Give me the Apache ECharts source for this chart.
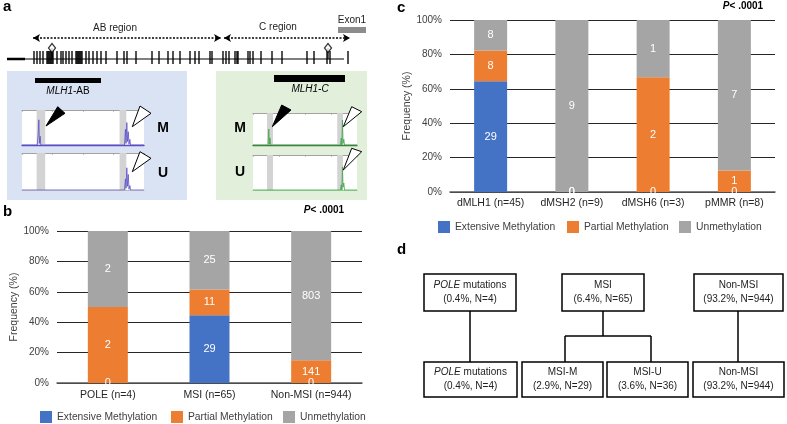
<!DOCTYPE html>
<html><head><meta charset="utf-8">
<script src="https://cdn.jsdelivr.net/npm/echarts@6/dist/echarts.min.js"></script>
<style>html,body{margin:0;padding:0;background:#fff}#c{width:787px;height:424px}</style>
</head><body><div id="c"></div>
<script>
// ---------- DATA ----------
const seriesNames = ['Extensive Methylation', 'Partial Methylation', 'Unmethylation'];
// panel b
const bCategories = ['POLE (n=4)', 'MSI (n=65)', 'Non-MSI (n=944)'];
const bExtensive = [0, 29, 0];
const bPartial = [2, 11, 141];
const bUnmeth = [2, 25, 803];
// panel c
const cCategories = ['dMLH1 (n=45)', 'dMSH2 (n=9)', 'dMSH6 (n=3)', 'pMMR (n=8)'];
const cExtensive = [29, 0, 0, 0];
const cPartial = [8, 0, 2, 1];
const cUnmeth = [8, 9, 1, 7];
const yTicks = [0, 20, 40, 60, 80, 100];
const pValueText = '< .0001';
// panel a (schematic coordinates along the promoter region)
const cpgSites = [34, 37, 40, 43, 47, 48, 49, 50, 51, 52, 53, 57, 61, 63, 66, 69, 72, 76, 77, 78, 79, 80, 81, 82,
  86, 89, 93, 97, 101, 106, 117, 124, 127, 136, 152, 159, 168, 173, 180,
  190, 195, 199, 210, 212, 223, 226, 229, 235, 237, 238, 248, 250, 253, 261, 272, 282, 307, 314, 327, 330, 348];
const lollipopSites = [52, 328];
const abRegion = [33, 221];
const cRegion = [224, 350];
const exon1 = [338, 366];
const ampliconAB = [35, 101];
const ampliconC = [274, 345];
// electropherogram traces (size position %, relative signal)
const traceABM = [[0,0],[12.5,0],[13.3,0.35],[13.8,0.72],[14.3,0.05],[14.9,0.25],[15.4,0],[84,0],[84.8,0.45],[85.3,0.05],[85.9,0.64],[86.5,0.1],[87.1,0.38],[87.7,0.02],[88.4,0.16],[89,0],[100,0]];
const traceABU = [[0,0],[84,0],[84.8,0.3],[85.3,0.05],[85.9,0.6],[86.5,0.1],[87.1,0.42],[87.7,0.02],[88.4,0.12],[89,0],[100,0]];
const traceCM = [[0,0],[14.5,0],[15.2,0.5],[15.7,0.02],[16.3,0.22],[17,0],[84,0],[84.9,0.22],[85.4,0],[86,0.78],[86.6,0.05],[87.3,0.18],[88,0],[100,0]];
const traceCU = [[0,0],[84,0],[84.9,0.15],[85.4,0],[86,0.66],[86.6,0.08],[87.3,0.2],[88,0],[100,0]];
const abShaded = [[12, 19], [80, 85.5]];
const cShaded = [[13.5, 19.2], [81, 86.5]];
// panel d
const flowTop = [
  {name: 'POLE', italic: true, rest: ' mutations', pct: '0.4%', n: 4},
  {name: 'MSI', italic: false, rest: '', pct: '6.4%', n: 65},
  {name: 'Non-MSI', italic: false, rest: '', pct: '93.2%', n: 944}
];
const flowBottom = [
  {name: 'POLE', italic: true, rest: ' mutations', pct: '0.4%', n: 4},
  {name: 'MSI-M', italic: false, rest: '', pct: '2.9%', n: 29},
  {name: 'MSI-U', italic: false, rest: '', pct: '3.6%', n: 36},
  {name: 'Non-MSI', italic: false, rest: '', pct: '93.2%', n: 944}
];

// ---------- CHART ----------
const FONT = '"Liberation Sans", Arial, Helvetica, sans-serif';
const COLORS = ['#4472c4', '#ed7d31', '#a5a5a5'];
const chart = echarts.init(document.getElementById('c'));

function stackSeries(cats, ext, par, un, xi, barWidth) {
  const totals = cats.map((_, i) => ext[i] + par[i] + un[i]);
  return [ext, par, un].map((arr, k) => ({
    type: 'bar', name: seriesNames[k], stack: 'stk' + xi, xAxisIndex: xi, yAxisIndex: xi,
    barWidth: barWidth, itemStyle: {color: COLORS[k]},
    label: {show: true, position: 'inside', color: '#fff', fontSize: 11, fontFamily: FONT,
      formatter: p => String(p.data.count)},
    data: arr.map((v, i) => ({value: v / totals[i] * 100, count: v}))
  }));
}

function pctAxis(gi, nameGap) {
  return {type: 'value', gridIndex: gi, min: yTicks[0], max: yTicks[yTicks.length - 1],
    interval: yTicks[1] - yTicks[0],
    axisLine: {show: false}, axisTick: {show: false},
    axisLabel: {formatter: '{value}%', color: '#404040', fontSize: 10, margin: 8, fontFamily: FONT},
    splitLine: {lineStyle: {color: '#262626', width: 1}},
    name: 'Frequency (%)', nameLocation: 'middle', nameRotate: 90, nameGap: nameGap,
    nameTextStyle: {fontSize: 10.5, color: '#404040', fontFamily: FONT}};
}
function catAxis(gi, cats, margin) {
  return {type: 'category', gridIndex: gi, data: cats,
    axisLine: {lineStyle: {color: '#595959', width: 1.5}}, axisTick: {show: false},
    axisLabel: {interval: 0, color: '#262626', fontSize: 10.5, margin: margin, fontFamily: FONT}};
}

const electro = [
  {grid: {left: 22, top: 110, width: 122, height: 35}, trace: traceABM, shaded: abShaded, color: '#5a4fc8', base: '#5a4fc8', baseW: 1.4},
  {grid: {left: 22, top: 153, width: 122, height: 37}, trace: traceABU, shaded: abShaded, color: '#5a4fc8', base: '#b0b0b0', baseW: 0.8},
  {grid: {left: 253, top: 113, width: 104, height: 32}, trace: traceCM, shaded: cShaded, color: '#3fa44a', base: '#3c7a42', baseW: 1.4},
  {grid: {left: 253, top: 155, width: 104, height: 35}, trace: traceCU, shaded: cShaded, color: '#3fa44a', base: '#8fcf8f', baseW: 1}
];

const grids = [
  {left: 57, top: 231, width: 305, height: 152},
  {left: 450, top: 20, width: 325, height: 172},
  {left: 0, top: 15, width: 370, height: 70}
];
const xAxes = [catAxis(0, bCategories, 7), catAxis(1, cCategories, 6),
  {type: 'value', gridIndex: 2, min: 0, max: 370, show: false}];
const yAxes = [pctAxis(0, 29), pctAxis(1, 36),
  {type: 'value', gridIndex: 2, min: 0, max: 70, inverse: true, show: false}];
const series = [...stackSeries(bCategories, bExtensive, bPartial, bUnmeth, 0, 40),
  ...stackSeries(cCategories, cExtensive, cPartial, cUnmeth, 1, 33)];

// panel a strip
series.push({
  type: 'line', xAxisIndex: 2, yAxisIndex: 2, data: [[7, 44], [25, 44]], symbol: 'none', silent: true,
  lineStyle: {color: '#000', width: 2.4}
});
series.push({
  type: 'line', xAxisIndex: 2, yAxisIndex: 2, data: [[25, 44], [344, 44]], symbol: 'none', silent: true,
  lineStyle: {color: '#000', width: 1.1},
  markLine: {silent: true, symbol: ['arrow', 'arrow'], symbolSize: [6, 7], label: {show: false},
    lineStyle: {type: [2, 1.5], color: '#000', width: 1.6},
    data: [[{coord: [abRegion[0], 23]}, {coord: [abRegion[1], 23]}], [{coord: [cRegion[0], 23]}, {coord: [cRegion[1], 23]}]]},
  markArea: {silent: true, data: [
    [{coord: [exon1[0], 12], itemStyle: {color: '#8c8c8c'}}, {coord: [exon1[1], 18]}],
    [{coord: [ampliconAB[0], 63], itemStyle: {color: '#000'}}, {coord: [ampliconAB[1], 68]}],
    [{coord: [ampliconC[0], 60], itemStyle: {color: '#000'}}, {coord: [ampliconC[1], 67]}]
  ]}
});
series.push({
  type: 'scatter', xAxisIndex: 2, yAxisIndex: 2, symbol: 'rect', symbolSize: [1.7, 13], silent: true,
  itemStyle: {color: '#000'}, data: cpgSites.map(x => [x, 42.5])
});
series.push({
  type: 'scatter', xAxisIndex: 2, yAxisIndex: 2, symbol: 'rect', symbolSize: [1.5, 11], silent: true,
  itemStyle: {color: '#000'}, data: lollipopSites.map(x => [x, 38.5])
});
series.push({
  type: 'scatter', xAxisIndex: 2, yAxisIndex: 2, symbol: 'diamond', symbolSize: [7, 9], silent: true,
  itemStyle: {color: '#fff', borderColor: '#000', borderWidth: 1.3}, data: lollipopSites.map(x => [x, 33])
});

// electropherograms
electro.forEach((e, i) => {
  const gi = grids.length;
  grids.push(Object.assign({show: true, backgroundColor: '#fff', borderWidth: 0}, e.grid));
  const xb = xAxes.length;
  xAxes.push({type: 'value', gridIndex: gi, min: 0, max: 100, axisLine: {show: true, onZero: false, lineStyle: {color: e.base, width: e.baseW}},
    axisTick: {show: false}, axisLabel: {show: false}, splitLine: {show: false}});
  xAxes.push({type: 'value', gridIndex: gi, min: 0, max: 100, interval: 25, position: 'top',
    axisLine: {show: true, onZero: false, lineStyle: {color: '#8a8a8a', width: 0.8}},
    axisTick: {show: true, inside: true, length: 2, lineStyle: {color: '#9a9a9a', width: 0.6}}, axisLabel: {show: false}, splitLine: {show: false}});
  const yi = yAxes.length;
  yAxes.push({type: 'value', gridIndex: gi, min: 0, max: 1, show: false});
  series.push({
    type: 'line', xAxisIndex: xb, yAxisIndex: yi, data: e.trace, showSymbol: false, silent: true,
    lineStyle: {color: e.color, width: 0.8},
    markArea: {silent: true, itemStyle: {color: '#d3d3d3'},
      data: e.shaded.map(r => [{xAxis: r[0]}, {xAxis: r[1]}])}
  });
});

// legends
function legendAt(x, y, k) {
  return {left: x, top: y, padding: 0, itemWidth: 12, itemHeight: 12, icon: 'rect', selectedMode: false,
    textStyle: {fontSize: 10.3, color: '#404040', fontFamily: FONT}, data: [seriesNames[k]]};
}
const legends = [legendAt(40, 411, 0), legendAt(171, 411, 1), legendAt(283, 411, 2),
  legendAt(438, 221, 0), legendAt(567, 221, 1), legendAt(679, 221, 2)];

// graphics
const g = [];
function txt(x, y, text, font, extra) {
  g.push(Object.assign({type: 'text', x: x, y: y, z: 10,
    style: Object.assign({text: text, font: font, fill: '#000', align: 'center', verticalAlign: 'middle'}, extra || {})}));
}
// backgrounds panel a
g.push({type: 'rect', shape: {x: 7, y: 71, width: 180, height: 129}, style: {fill: '#dae3f3'}, z: -20});
g.push({type: 'rect', shape: {x: 216, y: 71, width: 151, height: 129}, style: {fill: '#e2efda'}, z: -20});
// panel letters
txt(3, 7, 'a', 'bold 15px ' + FONT, {align: 'left'});
txt(3, 212, 'b', 'bold 15px ' + FONT, {align: 'left'});
txt(397, 8, 'c', 'bold 15px ' + FONT, {align: 'left'});
txt(397, 250, 'd', 'bold 15px ' + FONT, {align: 'left'});
// p values
const pRich = {i: {fontStyle: 'italic', fontWeight: 'bold', fontSize: 10, fontFamily: FONT},
  b: {fontWeight: 'bold', fontSize: 10, fontFamily: FONT}};
txt(324, 210, '{i|P}{b|' + pValueText + '}', '10px ' + FONT, {rich: pRich});
txt(743, 6, '{i|P}{b|' + pValueText + '}', '10px ' + FONT, {rich: pRich});
// panel a text
txt(115, 28, 'AB region', '10px ' + FONT, {fill: '#222'});
txt(278, 27, 'C region', '10px ' + FONT, {fill: '#222'});
txt(352, 20, 'Exon1', '10px ' + FONT, {fill: '#222'});
const mRich = {i: {fontStyle: 'italic', fontSize: 10, fontFamily: FONT}, n: {fontSize: 10, fontFamily: FONT}};
txt(68, 91, '{i|MLH1}{n|-AB}', '10px ' + FONT, {rich: mRich});
txt(310, 89, '{i|MLH1-C}', '10px ' + FONT, {rich: mRich});
txt(163, 128, 'M', 'bold 14px ' + FONT);
txt(163, 173, 'U', 'bold 14px ' + FONT);
txt(240, 128, 'M', 'bold 14px ' + FONT);
txt(240, 172, 'U', 'bold 14px ' + FONT);
// arrows
function tri(points, fill) {
  g.push({type: 'polygon', z: 12, shape: {points: points}, style: {fill: fill, stroke: '#000', lineWidth: 1}});
}
tri([[46, 126], [57.7, 106.7], [65, 113.3]], '#000');
tri([[132.3, 126.7], [140, 106], [151, 113.3]], '#fff');
tri([[132.3, 171.7], [140, 151.7], [151, 158.3]], '#fff');
tri([[272.3, 126.7], [281.7, 105], [291, 110]], '#000');
tri([[343.3, 126.7], [351.7, 106.7], [361.7, 111.7]], '#fff');
tri([[343.3, 170], [351.7, 148.3], [361.7, 151.7]], '#fff');

// panel d flowchart
const topBoxes = [[424, 274, 92, 37], [562, 274, 82, 37], [694, 274, 89, 37]];
const botBoxes = [[424, 362, 93, 35], [522, 362, 81, 35], [607, 362, 81, 35], [693, 362, 91, 35]];
const fRich = {i: {fontStyle: 'italic', fontSize: 10, fontFamily: FONT, lineHeight: 14},
  n: {fontSize: 10, fontFamily: FONT, lineHeight: 14}};
function box(b, item) {
  g.push({type: 'rect', z: 10, shape: {x: b[0], y: b[1], width: b[2], height: b[3]},
    style: {fill: '#fff', stroke: '#000', lineWidth: 1.5}});
  const first = item.italic ? '{i|' + item.name + '}{n|' + item.rest + '}' : '{n|' + item.name + item.rest + '}';
  txt(b[0] + b[2] / 2, b[1] + b[3] / 2, first + '\n{n|(' + item.pct + ', N=' + item.n + ')}', '10px ' + FONT,
    {rich: fRich, fill: '#222', lineHeight: 14});
}
flowTop.forEach((it, i) => box(topBoxes[i], it));
flowBottom.forEach((it, i) => box(botBoxes[i], it));
function seg(x1, y1, x2, y2) {
  g.push({type: 'line', z: 9, shape: {x1: x1, y1: y1, x2: x2, y2: y2}, style: {stroke: '#000', lineWidth: 1.5}});
}
seg(470, 311, 470, 362);
seg(603, 311, 603, 336);
seg(565, 336, 651, 336);
seg(565, 336, 565, 362);
seg(651, 336, 651, 362);
seg(738, 311, 738, 362);

chart.setOption({
  animation: false,
  textStyle: {fontFamily: FONT},
  grid: grids, xAxis: xAxes, yAxis: yAxes, series: series,
  legend: legends, graphic: g
});
</script></body></html>
